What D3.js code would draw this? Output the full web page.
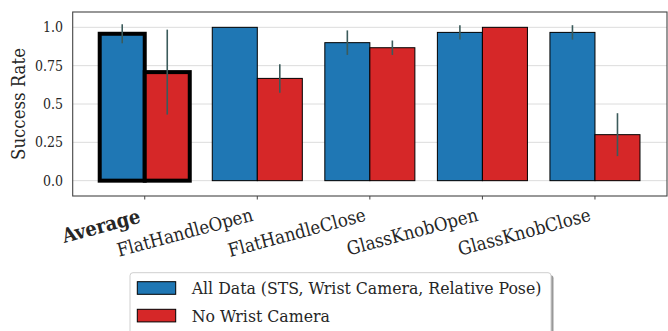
<!DOCTYPE html>
<html>
<head>
<meta charset="utf-8">
<script src="https://cdn.jsdelivr.net/npm/d3@7"></script>
<style>
  html, body { margin: 0; padding: 0; background: #fff; }
  svg { display: block; }
</style>
</head>
<body>
<svg id="chart" width="668" height="331"></svg>
<script>
// Task categories (first one is the average over all tasks)
const categories = ["Average", "FlatHandleOpen", "FlatHandleClose", "GlassKnobOpen", "GlassKnobClose"];
const seriesNames = ["All Data (STS, Wrist Camera, Relative Pose)", "No Wrist Camera"];
const seriesColors = ["#1f77b4", "#d62728"];

// Success rate per task, per configuration
const allDataMean = [0.958, 1.0, 0.9, 0.967, 0.967];
const allDataErr  = [0.062, 0.0, 0.08, 0.047, 0.047];
const noWristMean = [0.708, 0.667, 0.867, 1.0, 0.3];
const noWristErr  = [0.277, 0.093, 0.047, 0.0, 0.14];

const yTicks = [0.0, 0.25, 0.5, 0.75, 1.0];
const yTickLabels = ["0.0", "0.25", "0.5", "0.75", "1.0"];

const FONT = "'DejaVu Serif Condensed', 'DejaVu Serif', serif";
const TEXT_COLOR = "#262626";

const svg = d3.select("#chart").attr("font-family", FONT);
const plot = { left: 72.7, right: 667, top: 12, bottom: 196 };

// pick a font size so that a sample string spans the wanted width
function fitSize(sample, width, weight) {
  const t = svg.append("text")
    .attr("font-family", FONT)
    .attr("font-weight", weight || "normal")
    .attr("font-size", 20)
    .text(sample);
  const w = t.node().getComputedTextLength();
  t.remove();
  return 20 * width / w;
}
const tickSize = fitSize("0.25", 28);
const titleSize = fitSize("Success Rate", 112);
const xLabelSize = fitSize("FlatHandleOpen", 140);
const avgSize = fitSize("Average", 80, "bold");
const legendSize = fitSize(seriesNames[0], 350);

const x = d3.scaleBand()
  .domain(categories)
  .range([plot.left, plot.right])
  .paddingInner(0.2)
  .paddingOuter(0.24);

const xSub = d3.scaleBand()
  .domain([0, 1])
  .range([0, x.bandwidth()])
  .padding(0);

const y = d3.scaleLinear().domain([-0.1, 1.1]).range([plot.bottom, plot.top]);

// horizontal grid
svg.append("g")
  .selectAll("line")
  .data(yTicks)
  .join("line")
  .attr("x1", plot.left).attr("x2", plot.right)
  .attr("y1", d => y(d)).attr("y2", d => y(d))
  .attr("stroke", "#dcdcdc").attr("stroke-width", 1);

// bars
const rows = categories.map((c, i) => ({
  cat: c,
  vals: [
    { s: 0, v: allDataMean[i], e: allDataErr[i] },
    { s: 1, v: noWristMean[i], e: noWristErr[i] }
  ]
}));

const groups = svg.append("g")
  .selectAll("g")
  .data(rows)
  .join("g")
  .attr("transform", d => `translate(${x(d.cat)},0)`);

groups.selectAll("rect")
  .data(d => d.vals.map(v => ({ ...v, cat: d.cat })))
  .join("rect")
  .attr("x", d => xSub(d.s))
  .attr("width", xSub.bandwidth())
  .attr("y", d => y(d.v))
  .attr("height", d => y(0) - y(d.v))
  .attr("fill", d => seriesColors[d.s])
  .attr("stroke", "#000")
  .attr("stroke-width", d => d.cat === "Average" ? 4 : 1);

// error bars
groups.selectAll("line.err")
  .data(d => d.vals.filter(v => v.e > 0))
  .join("line")
  .attr("class", "err")
  .attr("x1", d => xSub(d.s) + xSub.bandwidth() / 2)
  .attr("x2", d => xSub(d.s) + xSub.bandwidth() / 2)
  .attr("y1", d => y(d.v - d.e))
  .attr("y2", d => y(d.v + d.e))
  .attr("stroke", "#3b5b5b")
  .attr("stroke-width", 1.6);

// frame
svg.append("rect")
  .attr("x", plot.left).attr("y", plot.top)
  .attr("width", plot.right - plot.left)
  .attr("height", plot.bottom - plot.top)
  .attr("fill", "none")
  .attr("stroke", "#444").attr("stroke-width", 1.1);

// y tick labels
svg.append("g")
  .selectAll("text")
  .data(yTicks)
  .join("text")
  .attr("x", 63)
  .attr("y", d => y(d))
  .attr("dy", "0.35em")
  .attr("text-anchor", "end")
  .attr("font-family", FONT)
  .attr("fill", TEXT_COLOR)
  .attr("font-size", tickSize)
  .text((d, i) => yTickLabels[i]);

// y axis title
svg.append("text")
  .attr("transform", `translate(25,${(plot.top + plot.bottom) / 2}) rotate(-90)`)
  .attr("text-anchor", "middle")
  .attr("font-family", FONT)
  .attr("fill", TEXT_COLOR)
  .attr("font-size", titleSize)
  .text("Success Rate");

// x ticks
svg.append("g")
  .selectAll("line")
  .data(categories)
  .join("line")
  .attr("x1", d => x(d) + x.bandwidth() / 2)
  .attr("x2", d => x(d) + x.bandwidth() / 2)
  .attr("y1", plot.bottom).attr("y2", plot.bottom + 3.5)
  .attr("stroke", "#444").attr("stroke-width", 1);

// rotated x tick labels, right edge of the rotated box aligned with the tick
const angle = -15;
const xLabels = svg.append("g")
  .selectAll("text")
  .data(categories)
  .join("text")
  .attr("text-anchor", "end")
  .attr("font-family", FONT)
  .attr("fill", TEXT_COLOR)
  .attr("font-size", d => d === "Average" ? avgSize : xLabelSize)
  .attr("font-weight", d => d === "Average" ? "bold" : "normal")
  .text(d => d);

xLabels.each(function(d) {
  const b = this.getBBox();
  const a = angle * Math.PI / 180;
  const corners = [[b.x, b.y], [b.x + b.width, b.y], [b.x, b.y + b.height], [b.x + b.width, b.y + b.height]]
    .map(([px, py]) => [px * Math.cos(a) - py * Math.sin(a), px * Math.sin(a) + py * Math.cos(a)]);
  const maxX = d3.max(corners, c => c[0]);
  const minY = d3.min(corners, c => c[1]);
  const tx = x(d) + x.bandwidth() / 2 - 2 - maxX;
  const ty = plot.bottom + 8 - minY;
  d3.select(this).attr("transform", `translate(${tx},${ty}) rotate(${angle})`);
});

// legend
const leg = svg.append("g");
const legX = 130, legY = 272.7, legW = 421, legH = 70;
leg.append("rect")
  .attr("x", legX + 2.5).attr("y", legY + 2.5)
  .attr("width", legW).attr("height", legH)
  .attr("rx", 3).attr("fill", "#999");
leg.append("rect")
  .attr("x", legX).attr("y", legY)
  .attr("width", legW).attr("height", legH)
  .attr("rx", 3).attr("fill", "#fff")
  .attr("stroke", "#cfcfcf").attr("stroke-width", 1);

const legRows = leg.selectAll("g.row")
  .data(seriesNames)
  .join("g")
  .attr("class", "row")
  .attr("transform", (d, i) => `translate(${legX + 7.3},${legY + 9 + i * 27.6})`);

legRows.append("rect")
  .attr("width", 38.4).attr("height", 12.6)
  .attr("fill", (d, i) => seriesColors[i])
  .attr("stroke", "#000").attr("stroke-width", 1);

legRows.append("text")
  .attr("x", 54.4)
  .attr("y", 6.3)
  .attr("dy", "0.35em")
  .attr("font-family", FONT)
  .attr("fill", TEXT_COLOR)
  .attr("font-size", legendSize)
  .text(d => d);
</script>
</body>
</html>
